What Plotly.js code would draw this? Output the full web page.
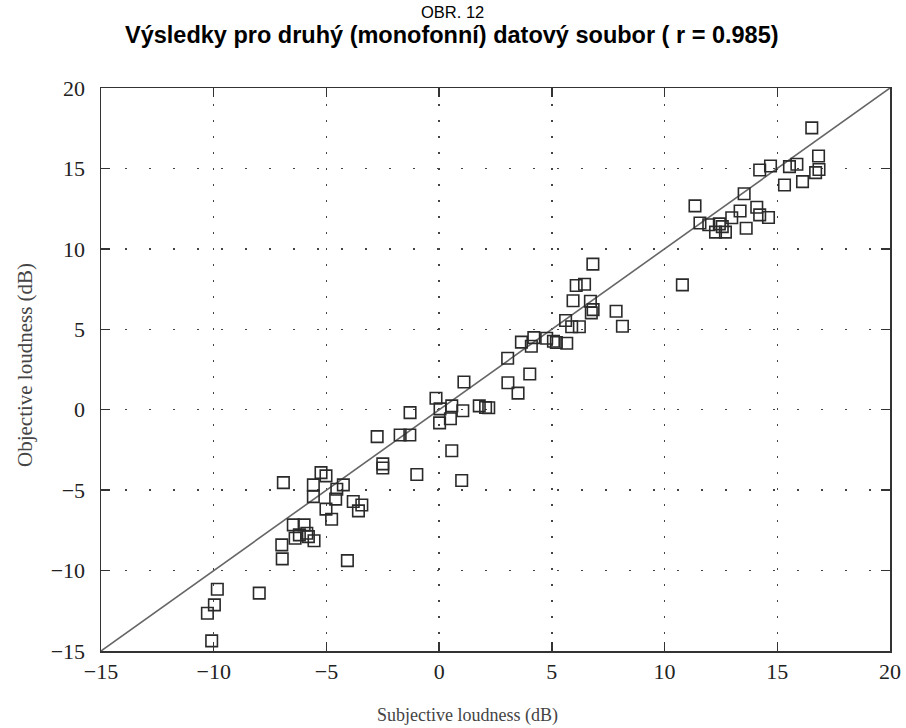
<!DOCTYPE html>
<html>
<head>
<meta charset="utf-8">
<script src="https://cdn.plot.ly/plotly-3.0.1.min.js"></script>
<style>
  html, body { margin: 0; padding: 0; background: #fff; }
  #chart { width: 906px; height: 728px; }
</style>
</head>
<body>
<div id="chart"></div>
<script>
// Subjective vs. objective loudness (dB), second (mono) data set
const subjective = [
  -10.09, -10.28, -9.97, -9.84, -7.98, -6.96, -6.98, -6.39, -6.20, -6.47,
  -5.99, -5.87, -5.80, -5.55, -6.91, -5.24, -5.02, -5.58, -5.58, -4.54,
  -4.25, -4.59, -5.02, -4.77, -3.81, -3.43, -3.58, -4.07, -2.50, -2.50,
  -0.99, -2.75, -1.73, -1.30, -1.29, -0.14, 0.04, 0.56, 1.05, 0.02,
  0.50, 1.10, 1.78, 2.06, 2.20, 0.56, 1.00, 3.04, 3.05, 3.50,
  4.02, 3.65, 4.09, 4.20, 4.77, 5.07, 5.20, 5.66, 5.61, 5.88,
  6.22, 5.94, 6.71, 6.83, 6.75, 6.08, 6.45, 6.82, 7.85, 8.13,
  10.79, 11.35, 11.57, 11.96, 12.43, 12.56, 12.26, 12.70, 12.98, 13.35,
  13.62, 13.53, 14.09, 14.22, 14.61, 14.22, 14.70, 15.54, 15.87, 15.32,
  16.12, 16.53, 16.83, 16.85, 16.70
];
const objective = [
  -14.37, -12.65, -12.13, -11.16, -11.40, -9.27, -8.40, -7.99, -7.78, -7.16,
  -7.16, -7.68, -7.89, -8.15, -4.53, -3.91, -4.11, -4.67, -5.40, -4.94,
  -4.67, -5.56, -6.18, -6.81, -5.71, -5.92, -6.29, -9.38, -3.37, -3.62,
  -4.03, -1.67, -1.57, -1.57, -0.18, 0.71, 0.05, 0.24, -0.06, -0.82,
  -0.56, 1.72, 0.24, 0.14, 0.12, -2.55, -4.40, 3.20, 1.68, 1.03,
  2.22, 4.20, 3.95, 4.48, 4.44, 4.26, 4.18, 4.13, 5.55, 5.16,
  5.16, 6.77, 6.74, 6.22, 6.02, 7.72, 7.80, 9.05, 6.12, 5.19,
  7.76, 12.67, 11.61, 11.50, 11.55, 11.38, 11.04, 11.04, 11.93, 12.35,
  11.28, 13.43, 12.59, 12.11, 11.95, 14.90, 15.15, 15.11, 15.26, 13.97,
  14.18, 17.52, 15.77, 14.93, 14.74
];

// Identity line (objective = subjective)
const identity = [-15, 20];

const tickVals = [-15, -10, -5, 0, 5, 10, 15, 20];

const serif = '"Liberation Serif", "Times New Roman", serif';
const sans = '"Liberation Sans", Arial, sans-serif';

const axisCommon = {
  range: [-15, 20],
  tickvals: tickVals,
  showline: true,
  linecolor: '#333',
  linewidth: 1.5,
  mirror: 'ticks',
  ticks: 'inside',
  ticklen: 9,
  tickwidth: 1.3,
  tickcolor: '#333',
  tickfont: { family: serif, size: 22, color: '#222' },
  showgrid: true,
  gridcolor: '#444',
  gridwidth: 1.4,
  zeroline: false,
  fixedrange: true
};

const traces = [
  {
    x: identity,
    y: identity,
    mode: 'lines',
    line: { color: '#666', width: 1.6 },
    hoverinfo: 'skip',
    showlegend: false
  },
  {
    x: subjective,
    y: objective,
    mode: 'markers',
    marker: {
      symbol: 'square-open',
      size: 11.5,
      color: '#2a2a2a',
      line: { width: 1.6, color: '#2a2a2a' }
    },
    showlegend: false
  }
];

const layout = {
  width: 906,
  height: 728,
  margin: { l: 101, r: 16, t: 88, b: 77 },
  paper_bgcolor: '#fff',
  plot_bgcolor: '#fff',
  xaxis: Object.assign({}, axisCommon, {
    griddash: '2px,14px',
    ticklabelstandoff: 0
  }),
  yaxis: Object.assign({}, axisCommon, {
    griddash: '2px,22px',
    ticklabelstandoff: 10
  }),
  annotations: [
    {
      text: 'OBR. 12',
      xref: 'paper', yref: 'paper',
      x: 0.445, y: 1.135,
      xanchor: 'center', yanchor: 'middle',
      showarrow: false,
      font: { family: sans, size: 16.5, color: '#000' }
    },
    {
      text: '<b>Výsledky pro druhý (monofonní) datový soubor ( r = 0.985)</b>',
      xref: 'paper', yref: 'paper',
      x: 0.445, y: 1.094,
      xanchor: 'center', yanchor: 'middle',
      showarrow: false,
      font: { family: sans, size: 23.5, color: '#000' }
    },
    {
      text: 'Subjective loudness (dB)',
      xref: 'paper', yref: 'paper',
      x: 0.465, y: -0.093,
      xanchor: 'center', yanchor: 'top',
      showarrow: false,
      font: { family: serif, size: 18, color: '#444' }
    },
    {
      text: 'Objective loudness (dB)',
      xref: 'paper', yref: 'paper',
      x: -0.0963, y: 0.508,
      xanchor: 'center', yanchor: 'middle',
      textangle: -90,
      showarrow: false,
      font: { family: serif, size: 21, color: '#444' }
    }
  ]
};

Plotly.newPlot('chart', traces, layout, { displayModeBar: false, staticPlot: true });
</script>
</body>
</html>
